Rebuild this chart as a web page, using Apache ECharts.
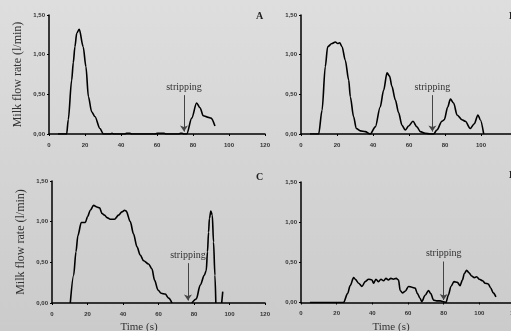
<!DOCTYPE html>
<html>
<head>
<meta charset="utf-8">
<script src="https://cdn.jsdelivr.net/npm/echarts@6/dist/echarts.min.js"></script>
<style>
html,body{margin:0;padding:0;background:#d8d8d8;}
#chart{width:511px;height:331px;}
</style>
</head>
<body>
<div id="chart"></div>
<script>
// ---- data (time in s, milk flow rate in l/min) ----
var timeA = [5,8,9.8,10.7,12.6,13.5,14.4,15.4,16.8,19,20.5,21.9,23.7,25.5,28.3,30.2,34,35,36,42,43,45,46,59,60,64,65,72,73,74,75,76.5,79.3,82,83.9,85.7,88.5,90,92.2];
var flowA = [0,0,0,0.18,0.68,0.9,1.10,1.27,1.32,1.10,0.85,0.47,0.28,0.22,0.07,0,0,0.01,0,0,0.01,0.01,0,0,0.01,0.01,0,0,0.01,0.01,0,0,0.2,0.39,0.33,0.23,0.21,0.2,0.1];

var timeB = [5,9.8,11.7,13.5,14.8,17.2,19.1,20.4,21.5,22.8,24.6,26.5,27.4,29.2,30.7,33,35.7,38.5,41.3,44,45.9,47.8,49.2,50.5,52.4,54.2,56.1,57.9,59.8,62.2,64.4,66.3,69,71.8,73.7,75.5,78.3,79.6,81.5,83,84.8,86.7,89.4,91.3,94,96.3,98.3,99.6,101.5];
var flowB = [0,0,0.3,0.85,1.1,1.14,1.16,1.14,1.15,1.1,0.93,0.68,0.47,0.22,0.07,0.04,0.03,0,0.09,0.34,0.55,0.77,0.73,0.6,0.43,0.27,0.11,0.05,0.1,0.16,0.09,0.03,0.01,0,0,0.05,0.16,0.18,0.34,0.44,0.39,0.24,0.18,0.16,0.07,0.13,0.24,0.18,0];

var timeC = [10.3,12.2,13.5,14.6,16.5,18.8,20,21.6,23.4,25.3,26.8,28.2,29.6,31,32.8,35.2,37.5,39.4,40.9,41.8,44.1,45.9,47.9,49.7,51.6,54.4,56.3,57.8,59.7,61.5,63.8,65.7,67.6,72,78.8,81.3,83.5,85.8,86.9,87.6,88.2,88.7,89.5,90.3,91,91.8,92.3,94,95.6,96.2];
var flowC = [0,0.34,0.63,0.83,0.99,0.99,1.06,1.14,1.2,1.18,1.17,1.1,1.08,1.05,1.03,1.03,1.08,1.12,1.14,1.13,1.0,0.85,0.69,0.59,0.52,0.48,0.42,0.28,0.16,0.12,0.11,0.06,0,null,0,0.05,0.22,0.34,0.4,0.63,0.87,1.04,1.13,1.08,0.75,0.34,0,null,0,0.14];

var timeD = [5,23.9,26.1,27.6,29.5,30.4,32.3,34.2,36,37.9,39.8,40.7,42,43.5,44.8,46.3,47.6,49,50.4,51.8,53.4,54.7,55.6,56.9,58.4,60.3,62.2,64,65.3,66.8,67.7,69.6,71.5,72.8,74.3,76.1,78,79.8,81.3,82.6,84.1,85.8,87.7,89.2,90.5,91.6,92.9,94.2,95.7,97.2,98.5,100,101.9,103.2,105,106.4,107.8,109.3];
var flowD = [0,0,0.11,0.21,0.31,0.29,0.24,0.2,0.26,0.29,0.28,0.24,0.29,0.26,0.29,0.27,0.3,0.28,0.3,0.29,0.3,0.28,0.15,0.12,0.14,0.2,0.19,0.18,0.11,0.05,0.01,0.09,0.15,0.11,0.03,0.02,0.02,0.01,0,0.09,0.2,0.26,0.25,0.21,0.28,0.36,0.4,0.37,0.33,0.31,0.32,0.29,0.27,0.24,0.23,0.18,0.12,0.07];

var stripTime = [75, 73, 76.6, 80];
var stripTop = [0.49, 0.49, 0.49, 0.51];
var stripEnd = 0.03;
var stripLabel = 'stripping';
var panelLetters = ['A', 'B', 'C', 'D'];
var yTicks = [0, 0.5, 1, 1.5];
var xTicks = [0, 20, 40, 60, 80, 100, 120];
var yTitle = 'Milk flow rate (l/min)';
var xTitle = 'Time (s)';

// ---- build ----
var times = [timeA, timeB, timeC, timeD];
var flows = [flowA, flowB, flowC, flowD];

var grids = [
  {left: 49, top: 15, width: 216, height: 119, outerBoundsMode: 'none', containLabel: false},
  {left: 301, top: 15, width: 216, height: 119, outerBoundsMode: 'none', containLabel: false},
  {left: 52, top: 181, width: 213, height: 122, outerBoundsMode: 'none', containLabel: false},
  {left: 301, top: 182, width: 214, height: 120.5, outerBoundsMode: 'none', containLabel: false}
];

var tickFont = {fontFamily: 'Liberation Sans Narrow, Liberation Sans, Arial', fontSize: 6, fontWeight: 'bold', color: '#333'};

var xAxes = [], yAxes = [], series = [];
for (var i = 0; i < 4; i++) {
  xAxes.push({
    type: 'value', gridIndex: i, min: xTicks[0], max: xTicks[xTicks.length - 1], interval: xTicks[1] - xTicks[0],
    axisLine: {lineStyle: {color: '#000', width: 1.5}},
    axisTick: {length: 2, lineStyle: {color: '#000', width: 1}},
    axisLabel: Object.assign({margin: 8, showMaxLabel: true, hideOverlap: false}, tickFont),
    splitLine: {show: false}
  });
  yAxes.push({
    type: 'value', gridIndex: i, min: yTicks[0], max: yTicks[yTicks.length - 1], interval: yTicks[1] - yTicks[0],
    axisLine: {show: true, lineStyle: {color: '#000', width: 1.5}},
    axisTick: {show: true, length: 2, lineStyle: {color: '#000', width: 1}},
    axisLabel: Object.assign({margin: 4, formatter: function (v) { return v.toFixed(2).replace('.', ','); }}, tickFont),
    splitLine: {show: false},
    name: (i % 2 === 0) ? yTitle : '',
    nameLocation: 'middle', nameRotate: 90, nameGap: 25,
    nameTextStyle: {fontFamily: 'Liberation Serif, Times New Roman, serif', fontSize: 12, color: '#333'}
  });
  var pts = [];
  for (var k = 0; k < times[i].length; k++) {
    pts.push([times[i][k], flows[i][k] === null ? '-' : flows[i][k]]);
  }
  series.push({
    type: 'line', xAxisIndex: i, yAxisIndex: i, data: pts,
    showSymbol: false, symbol: 'none', smooth: 0.3, smoothMonotone: 'x', connectNulls: false,
    lineStyle: {color: '#000', width: 1.6},
    z: 3,
    markLine: {
      silent: true, symbol: ['none', 'arrow'], symbolSize: 6,
      lineStyle: {color: '#444', width: 1, type: 'solid'},
      label: {show: true, position: 'start', distance: 3, formatter: stripLabel,
              fontFamily: 'Liberation Serif, Times New Roman, serif', fontSize: 10, color: '#333'},
      data: [[{coord: [stripTime[i], stripTop[i]]}, {coord: [stripTime[i], stripEnd]}]]
    }
  });
}

var letterStyle = {fontFamily: 'Liberation Serif, Times New Roman, serif', fontSize: 10, fontWeight: 'bold', fill: '#222'};
var graphic = [
  {type: 'text', left: 256, top: 11, style: Object.assign({text: panelLetters[0]}, letterStyle)},
  {type: 'text', left: 509, top: 11, style: Object.assign({text: panelLetters[1]}, letterStyle)},
  {type: 'text', left: 256, top: 172, style: Object.assign({text: panelLetters[2]}, letterStyle)},
  {type: 'text', left: 509, top: 170, style: Object.assign({text: panelLetters[3]}, letterStyle)},
  {type: 'text', x: 139, y: 327, style: {text: xTitle, align: 'center', verticalAlign: 'middle', fontFamily: 'Liberation Serif, Times New Roman, serif', fontSize: 11, fill: '#333'}},
  {type: 'text', x: 391, y: 327, style: {text: xTitle, align: 'center', verticalAlign: 'middle', fontFamily: 'Liberation Serif, Times New Roman, serif', fontSize: 11, fill: '#333'}}
];

var chart = echarts.init(document.getElementById('chart'), null, {renderer: 'canvas'});
chart.setOption({
  animation: false,
  backgroundColor: {type: 'linear', x: 0, y: 0, x2: 0, y2: 1,
    colorStops: [{offset: 0, color: '#dedede'}, {offset: 1, color: '#cbcbcb'}]},
  grid: grids,
  xAxis: xAxes,
  yAxis: yAxes,
  series: series,
  graphic: graphic
});
</script>
</body>
</html>
